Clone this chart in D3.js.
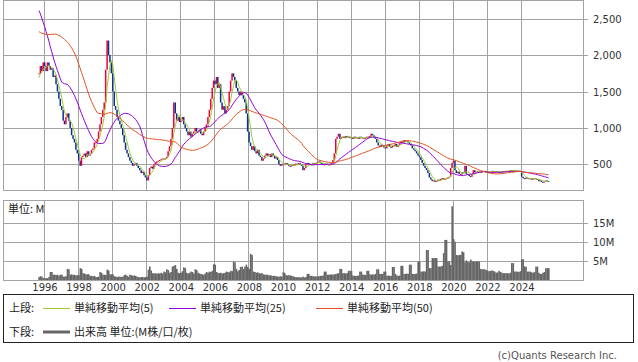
<!DOCTYPE html>
<html>
<head>
<meta charset="utf-8">
<script src="https://cdn.jsdelivr.net/npm/d3@7"></script>
<style>
  body { margin: 0; background: #fff; }
  svg { display: block; }
  text { font-family: "DejaVu Sans", sans-serif; }
  .jp { font-family: "Noto Sans CJK JP", sans-serif; }
</style>
</head>
<body>
<svg id="chart" width="638" height="362"></svg>
<script>
// monthly closes shown on the chart, Sep 1995 .. Aug 2025
var closes = [
  1750, 1850, 1780, 1900,                                              // 1995 Sep-Dec
  1850, 1780, 1900, 1850, 1800, 1820, 1700, 1720, 1600, 1500, 1400, 1300, // 1996
  1250, 1100, 1050, 1150, 1200, 1100, 1000, 900, 850, 800, 700, 650,      // 1997
  550, 480, 600, 620, 650, 600, 680, 620, 640, 700, 720, 800,             // 1998
  800, 850, 950, 1050, 1150, 1250, 1350, 1800, 2200, 2000, 1900, 1750,    // 1999
  1500, 1300, 1250, 1150, 1100, 1050, 1000, 900, 800, 700, 650, 600,      // 2000
  550, 520, 480, 500, 520, 480, 450, 420, 380, 400, 350, 320,             // 2001
  280, 350, 450, 470, 440, 500, 520, 540, 550, 560, 570, 580,             // 2002
  570, 580, 600, 680, 750, 850, 1000, 1350, 1200, 1100, 1150, 1080,       // 2003
  1100, 1150, 1050, 1000, 950, 900, 950, 880, 920, 950, 1000, 950,        // 2004
  950, 980, 920, 900, 950, 1000, 1050, 1150, 1250, 1400, 1550, 1650,      // 2005
  1600, 1700, 1550, 1600, 1350, 1250, 1300, 1200, 1250, 1300, 1500, 1650, // 2006
  1750, 1700, 1650, 1550, 1500, 1450, 1500, 1450, 1400, 1350, 1200, 950,  // 2007
  800, 750, 700, 750, 680, 650, 700, 620, 600, 550, 580, 620,             // 2008
  650, 620, 640, 600, 650, 620, 580, 600, 560, 500, 480, 500,             // 2009
  510, 490, 520, 500, 480, 470, 490, 480, 500, 510, 500, 520,             // 2010
  500, 480, 420, 450, 500, 520, 510, 500, 490, 520, 510, 520,             // 2011
  530, 540, 520, 510, 490, 500, 510, 500, 490, 500, 520, 560,             // 2012
  650, 850, 880, 920, 850, 870, 880, 860, 890, 870, 880, 860,             // 2013
  870, 850, 880, 860, 870, 850, 880, 870, 860, 850, 870, 880,             // 2014
  860, 890, 920, 900, 870, 850, 800, 760, 740, 770, 760, 730,             // 2015
  720, 760, 780, 740, 730, 760, 750, 780, 740, 760, 790, 810,             // 2016
  800, 830, 810, 820, 800, 780, 760, 720, 700, 680, 650, 620,             // 2017
  600, 560, 520, 480, 450, 420, 380, 320, 290, 270, 280, 260,             // 2018
  270, 290, 280, 300, 310, 290, 300, 310, 320, 330, 450, 520,             // 2019
  550, 420, 380, 400, 370, 360, 390, 380, 480, 370, 360, 340,             // 2020
  330, 360, 420, 390, 400, 410, 400, 390, 400, 410, 400, 390,             // 2021
  400, 390, 400, 410, 390, 400, 405, 395, 390, 400, 405, 400,             // 2022
  405, 410, 400, 410, 420, 415, 410, 420, 410, 405, 410, 400,             // 2023
  330, 310, 300, 320, 310, 300, 310, 290, 300, 310, 300, 290,             // 2024
  270, 280, 260, 250, 270, 280, 270, 265                                  // 2025 Jan-Aug
];

// earlier closes (Aug 1991 .. Aug 1995), only feed the moving averages
var prevCloses = [
  2400, 2300, 2200, 2100, 2050,
  1950, 1850, 1800, 1700, 1650, 1600, 1700, 1800, 1900, 1850, 1800, 1900,
  2000, 2050, 2100, 2200, 2300, 2400, 2500, 2700, 3000, 3200, 3400, 3300,
  3500, 3400, 3600, 3700, 3600, 3500, 3400, 3100, 2900, 2800, 2700, 2500,
  1400, 1300, 1250, 1300, 1600, 1650, 1700, 1750
];

// monthly volume, millions
var volumes = [
  0.9, 1.1, 1.0, 0.6,
  0.6, 0.6, 0.6, 0.9, 2.2, 2.2, 1.5, 1.5, 1.4, 1.5, 1.2, 1.5,
  1.5, 1.0, 1.0, 1.1, 3.0, 2.9, 1.5, 1.6, 1.4, 1.5, 1.3, 1.4,
  1.4, 3.2, 3.0, 1.9, 1.8, 1.6, 1.6, 1.6, 1.2, 1.2, 1.1, 1.2,
  0.9, 0.9, 1.0, 2.2, 2.0, 1.5, 1.5, 1.4, 2.8, 2.6, 1.6, 1.6,
  1.6, 1.1, 1.0, 0.9, 1.0, 1.0, 0.9, 1.0, 1.4, 1.5, 1.2, 1.0,
  1.5, 1.4, 1.2, 1.3, 1.2, 1.0, 0.9, 0.8, 0.9, 0.9, 0.8, 0.9,
  1.0, 2.8, 3.6, 2.6, 1.9, 1.8, 1.9, 1.7, 1.9, 1.8, 2.0, 1.8,
  2.3, 2.1, 2.9, 2.7, 2.0, 2.2, 3.6, 3.8, 4.0, 3.0, 2.0, 1.9,
  2.0, 2.4, 3.4, 3.2, 2.0, 1.8, 2.0, 2.3, 2.2, 1.8, 2.9, 2.7,
  2.0, 1.8, 1.7, 1.6, 1.5, 1.8, 2.2, 2.0, 2.3, 2.2, 2.5, 4.2,
  4.1, 2.2, 2.0, 1.9, 2.0, 1.8, 1.9, 2.0, 2.3, 2.2, 2.1, 2.5,
  2.4, 4.9, 4.7, 3.0, 2.4, 2.7, 3.5, 3.6, 3.0, 3.6, 4.1, 3.5,
  3.0, 6.9, 6.6, 2.3, 2.2, 2.0, 2.1, 1.9, 1.8, 1.9, 1.6, 1.5,
  1.5, 1.5, 1.3, 1.4, 1.2, 1.2, 1.2, 1.1, 1.0, 1.0, 1.1, 1.0,
  2.1, 2.0, 1.4, 1.3, 1.4, 1.3, 1.2, 1.1, 0.9, 0.9, 0.8, 0.9,
  0.8, 0.8, 1.0, 0.8, 0.9, 1.7, 1.7, 1.2, 1.2, 1.1, 1.0, 1.1,
  1.0, 1.1, 1.2, 1.2, 1.3, 2.3, 2.3, 1.5, 1.5, 1.5, 1.6, 1.5,
  1.6, 1.7, 1.8, 1.9, 3.0, 3.0, 1.9, 1.9, 1.8, 1.9, 2.5, 2.5,
  2.5, 1.3, 1.2, 1.2, 1.2, 1.3, 2.3, 2.3, 1.5, 1.5, 1.4, 2.5,
  2.5, 1.6, 1.5, 1.6, 1.5, 1.7, 2.9, 2.9, 1.7, 1.7, 1.7, 2.3,
  2.3, 1.2, 1.3, 1.2, 1.2, 3.5, 3.5, 1.7, 1.3, 1.2, 1.3, 3.8,
  3.8, 1.7, 1.7, 1.8, 1.7, 4.1, 4.1, 1.7, 1.7, 1.7, 1.8, 4.9,
  4.9, 2.3, 2.3, 2.4, 2.3, 7.9, 7.9, 3.2, 3.2, 5.8, 5.8, 5.8,
  5.8, 3.6, 3.6, 3.6, 3.8, 7.1, 10.5, 10.5, 4.9, 4.9, 4.0, 19.2,
  10.7, 10.0, 6.6, 6.5, 6.6, 6.6, 7.5, 7.3, 4.7, 5.2, 4.8, 4.7,
  5.4, 5.0, 4.9, 4.9, 4.9, 4.9, 4.9, 3.0, 2.9, 2.9, 2.9, 2.7,
  2.5, 2.4, 2.5, 2.6, 2.5, 2.3, 2.0, 2.1, 2.5, 2.2, 2.0, 1.9,
  1.9, 1.9, 1.9, 1.8, 2.0, 4.5, 4.5, 2.3, 2.3, 2.3, 2.2, 2.4,
  5.5, 5.5, 3.6, 3.6, 2.3, 2.3, 2.3, 2.1, 2.0, 2.2, 3.6, 3.6,
  2.0, 1.7, 1.7, 2.0, 2.2, 3.2, 3.2, 3.2
];

var yearTicks = [1996, 1998, 2000, 2002, 2004, 2006, 2008, 2010, 2012, 2014, 2016, 2018, 2020, 2022, 2024];
var priceTicks = [500, 1000, 1500, 2000, 2500];
var volTicks = [5, 10, 15];
var maPeriods = [5, 25, 50];
var maColors = ['#9acd32', '#9400d3', '#e2501e'];
var legendTop = ['単純移動平均(5)', '単純移動平均(25)', '単純移動平均(50)'];

var firstMonth = new Date(1995, 8, 1);

var svg = d3.select('#chart');
var L = 3, R = 583;
var gridColor = '#a3a3a3';

var x = d3.scaleTime()
  .domain([new Date(1996, 0, 1), new Date(2024, 0, 1)])
  .range([44, 521]);
var y = d3.scaleLinear().domain([141, 2750]).range([190.5, 0.5]);
var yv = d3.scaleLinear().domain([0, 20.7]).range([280.5, 200.5]);

var all = prevCloses.concat(closes);
var off = prevCloses.length;

var data = closes.map(function (c, i) {
  var d = d3.timeMonth.offset(firstMonth, i);
  return {
    date: d,
    mid: new Date(d.getFullYear(), d.getMonth(), 15),
    open: all[off + i - 1],
    close: c,
    vol: volumes[i]
  };
});

function movingAvg(n) {
  return data.map(function (d, i) {
    var k = off + i;
    return { mid: d.mid, v: d3.mean(all.slice(k - n + 1, k + 1)) };
  });
}

// ---------- price panel ----------
var pricePanel = svg.append('g');
pricePanel.selectAll('.hg').data(priceTicks).enter().append('line')
  .attr('x1', L).attr('x2', R + 5)
  .attr('y1', function (d) { return Math.round(y(d)) + 0.5; })
  .attr('y2', function (d) { return Math.round(y(d)) + 0.5; })
  .attr('stroke', gridColor);
pricePanel.selectAll('.vg').data(yearTicks).enter().append('line')
  .attr('x1', function (d) { return Math.round(x(new Date(d, 0, 1))) + 0.5; })
  .attr('x2', function (d) { return Math.round(x(new Date(d, 0, 1))) + 0.5; })
  .attr('y1', 0).attr('y2', 191)
  .attr('stroke', gridColor);
pricePanel.append('rect').attr('x', L + 0.5).attr('y', 0.5).attr('width', R - L).attr('height', 190)
  .attr('fill', 'none').attr('stroke', gridColor);

pricePanel.selectAll('.pl').data(priceTicks).enter().append('text')
  .attr('x', 593).attr('y', function (d) { return y(d) + 4; })
  .attr('font-size', 10).attr('fill', '#333')
  .text(d3.format(','));

// candles
var cw = 1.5;
pricePanel.selectAll('.candle').data(data).enter().append('rect')
  .attr('x', function (d) { return x(d.mid) - cw / 2; })
  .attr('y', function (d) { return y(Math.max(d.open, d.close)); })
  .attr('width', cw)
  .attr('height', function (d) { return Math.max(1, Math.abs(y(d.open) - y(d.close))); })
  .attr('fill', function (d) { return d.close >= d.open ? '#f0003c' : '#0a2f8c'; });

// moving averages
maPeriods.forEach(function (n, j) {
  var line = d3.line().x(function (d) { return x(d.mid); }).y(function (d) { return y(d.v); });
  pricePanel.append('path').datum(movingAvg(n))
    .attr('d', line).attr('fill', 'none')
    .attr('stroke', maColors[j]).attr('stroke-width', 1);
});

// ---------- volume panel ----------
var volPanel = svg.append('g');
volPanel.selectAll('.hg').data(volTicks).enter().append('line')
  .attr('x1', L).attr('x2', R + 5)
  .attr('y1', function (d) { return Math.round(yv(d)) + 0.5; })
  .attr('y2', function (d) { return Math.round(yv(d)) + 0.5; })
  .attr('stroke', gridColor);
volPanel.selectAll('.vg').data(yearTicks).enter().append('line')
  .attr('x1', function (d) { return Math.round(x(new Date(d, 0, 1))) + 0.5; })
  .attr('x2', function (d) { return Math.round(x(new Date(d, 0, 1))) + 0.5; })
  .attr('y1', 200).attr('y2', 281)
  .attr('stroke', gridColor);

volPanel.selectAll('.bar').data(data).enter().append('rect')
  .attr('x', function (d) { return x(d.date); })
  .attr('width', function (d) { return x(d3.timeMonth.offset(d.date, 1)) - x(d.date) + 0.2; })
  .attr('y', function (d) { return yv(d.vol); })
  .attr('height', function (d) { return yv(0) - yv(d.vol); })
  .attr('fill', '#666');

volPanel.append('rect').attr('x', L + 0.5).attr('y', 200.5).attr('width', R - L).attr('height', 80)
  .attr('fill', 'none').attr('stroke', gridColor);

volPanel.selectAll('.vl').data(volTicks).enter().append('text')
  .attr('x', 593).attr('y', function (d) { return yv(d) + 4; })
  .attr('font-size', 10).attr('fill', '#333')
  .text(function (d) { return d + 'M'; });

volPanel.append('text').attr('class', 'jp').attr('x', 8).attr('y', 213)
  .attr('font-size', 11).attr('fill', '#222').text('単位: M');

svg.selectAll('.yl').data(yearTicks).enter().append('text')
  .attr('x', function (d) { return x(new Date(d, 0, 1)) + 1; })
  .attr('y', 291).attr('text-anchor', 'middle')
  .attr('font-size', 10).attr('fill', '#333')
  .text(function (d) { return d; });

// ---------- legend ----------
var lg = svg.append('g');
lg.append('rect').attr('x', 3.5).attr('y', 294.5).attr('width', 630).attr('height', 48)
  .attr('fill', '#fff').attr('stroke', '#222');
lg.append('text').attr('class', 'jp').attr('x', 9).attr('y', 312)
  .attr('font-size', 11).attr('fill', '#222').text('上段:');
var itemX = [43, 169, 316];
legendTop.forEach(function (t, j) {
  lg.append('line').attr('x1', itemX[j]).attr('x2', itemX[j] + 27)
    .attr('y1', 308.5).attr('y2', 308.5)
    .attr('stroke', maColors[j]).attr('stroke-width', 1);
  lg.append('text').attr('class', 'jp').attr('x', itemX[j] + 31).attr('y', 312)
    .attr('font-size', 11).attr('fill', '#222').text(t);
});
lg.append('text').attr('class', 'jp').attr('x', 9).attr('y', 336)
  .attr('font-size', 11).attr('fill', '#222').text('下段:');
lg.append('line').attr('x1', 43).attr('x2', 70).attr('y1', 332).attr('y2', 332)
  .attr('stroke', '#666').attr('stroke-width', 3);
lg.append('text').attr('class', 'jp').attr('x', 74).attr('y', 336)
  .attr('font-size', 11).attr('fill', '#222').text('出来高 単位:(M株/口/枚)');

svg.append('text').attr('x', 617).attr('y', 359).attr('text-anchor', 'end')
  .attr('font-size', 10).attr('fill', '#555').text('(c)Quants Research Inc.');
</script>
</body>
</html>
